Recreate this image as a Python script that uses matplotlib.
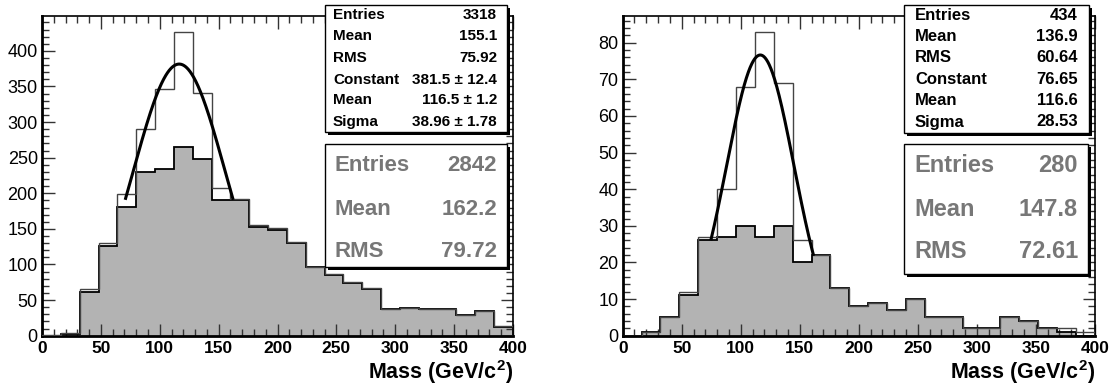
import numpy as np
import matplotlib.pyplot as plt
from matplotlib.patches import Rectangle
from matplotlib.ticker import MultipleLocator

plt.rcParams['font.family'] = ['Liberation Sans', 'DejaVu Sans']
plt.rcParams['mathtext.fontset'] = 'custom'
plt.rcParams['mathtext.rm'] = 'Liberation Sans'
plt.rcParams['mathtext.bf'] = 'Liberation Sans:bold'

# 25 bins of 16 GeV/c^2 from 0 to 400
edges = np.arange(0, 401, 16)

left_total = [1, 4, 65, 130, 199, 290, 347, 427, 341, 207, 192, 156, 151,
              131, 96, 87, 75, 67, 38, 39, 38, 38, 29, 35, 13]
left_sub = [0, 3, 62, 126, 181, 230, 234, 265, 248, 191, 190, 153, 149,
            130, 96, 85, 74, 66, 38, 39, 38, 38, 29, 35, 12]
right_total = [0, 1, 5, 12, 27, 40, 68, 83, 69, 26, 22, 13, 8,
               9, 7, 10, 5, 5, 2, 2, 5, 4, 2, 2, 1]
right_sub = [0, 1, 5, 11, 26, 27, 30, 27, 30, 20, 22, 13, 8,
             9, 7, 10, 5, 5, 2, 2, 5, 4, 2, 1, 0]

# gaussian fit parameters (constant, mean, sigma) and fit range
left_fit = (381.5, 116.5, 38.96)
left_range = (71, 162)
right_fit = (76.65, 116.6, 28.53)
right_range = (75, 161.5)

left_stats = [("Entries", "3318"), ("Mean", "155.1"), ("RMS", "75.92"),
              ("Constant", "381.5 ± 12.4"), ("Mean", "116.5 ± 1.2"),
              ("Sigma", "38.96 ± 1.78")]
left_sub_stats = [("Entries", "2842"), ("Mean", "162.2"), ("RMS", "79.72")]
right_stats = [("Entries", "434"), ("Mean", "136.9"), ("RMS", "60.64"),
               ("Constant", "76.65"), ("Mean", "116.6"), ("Sigma", "28.53")]
right_sub_stats = [("Entries", "280"), ("Mean", "147.8"), ("RMS", "72.61")]

W, H = 1115, 387
fig = plt.figure(figsize=(W / 100, H / 100), dpi=100)


def fx(x):
    return x / W


def fy(y):
    return 1 - y / H


def draw_panel(rect, total, sub, fit, frange, ymax, major, minor):
    ax = fig.add_axes(rect)
    ax.stairs(sub, edges, fill=True, color='#b3b3b3', zorder=1)
    ax.stairs(sub, edges, color='black', lw=1.3, zorder=2)
    ax.stairs(total, edges, color='#444444', lw=1.0, zorder=3)
    c, m, s = fit
    xf = np.linspace(frange[0], frange[1], 300)
    ax.plot(xf, c * np.exp(-0.5 * ((xf - m) / s) ** 2), color='black',
            lw=2.2, zorder=4)
    ax.set_xlim(0, 400)
    ax.set_ylim(0, ymax)
    ax.xaxis.set_major_locator(MultipleLocator(50))
    ax.xaxis.set_minor_locator(MultipleLocator(10))
    ax.yaxis.set_major_locator(MultipleLocator(major))
    ax.yaxis.set_minor_locator(MultipleLocator(minor))
    ax.tick_params(which='both', direction='in', top=True, right=True,
                   colors='#333333', labelcolor='black')
    ax.tick_params(which='major', length=9, width=1)
    ax.tick_params(which='minor', length=5, width=1)
    ax.tick_params(axis='y', labelsize=13, pad=3)
    ax.tick_params(axis='x', labelsize=12.5, pad=4)
    for lab in ax.get_xticklabels():
        lab.set_fontweight('bold')
    for side in ['left', 'bottom']:
        ax.spines[side].set_linewidth(2)
    for side in ['top', 'right']:
        ax.spines[side].set_linewidth(1.2)
    ax.set_xlabel('Mass (GeV/c$^{\\mathbf{2}}$)', loc='right',
                  fontsize=15.5, fontweight='bold', labelpad=1)
    return ax


def stat_box(x0, y0, x1, y1, rows, row_y, lab_x, val_x, size, color):
    fig.add_artist(Rectangle((fx(x0 + 3), fy(y1 + 3)), (x1 - x0) / W,
                             (y1 - y0) / H, facecolor='black',
                             edgecolor='none', transform=fig.transFigure,
                             zorder=5))
    fig.add_artist(Rectangle((fx(x0), fy(y1)), (x1 - x0) / W,
                             (y1 - y0) / H, facecolor='white',
                             edgecolor='black', lw=1,
                             transform=fig.transFigure, zorder=6))
    for (lab, val), y in zip(rows, row_y):
        fig.text(fx(lab_x), fy(y), lab, ha='left', va='center',
                 fontsize=size, fontweight='bold', color=color, zorder=7)
        fig.text(fx(val_x), fy(y), val, ha='right', va='center',
                 fontsize=size, fontweight='bold', color=color, zorder=7)


top_rows = [15, 36.5, 58, 79.5, 100.5, 122]
sub_rows = [166, 209.5, 251.5]

draw_panel([fx(42), fy(335.7), (513 - 42) / W, (335.7 - 16) / H],
           left_total, left_sub, left_fit, left_range, 449, 50, 10)
draw_panel([fx(622.7), fy(335.7), 472 / W, (335.7 - 16) / H],
           right_total, right_sub, right_fit, right_range, 87.3, 10, 2)

stat_box(325, 5, 507, 131.5, left_stats, top_rows, 333, 497, 11, 'black')
stat_box(325, 144, 507, 266.5, left_sub_stats, sub_rows, 334, 497, 16,
         '#777777')
stat_box(904, 5, 1088.5, 133, right_stats, top_rows, 915, 1078, 12, 'black')
stat_box(904, 144, 1088, 274, right_sub_stats, sub_rows, 914, 1078, 17,
         '#777777')

fig.savefig('out.png', dpi=100)
